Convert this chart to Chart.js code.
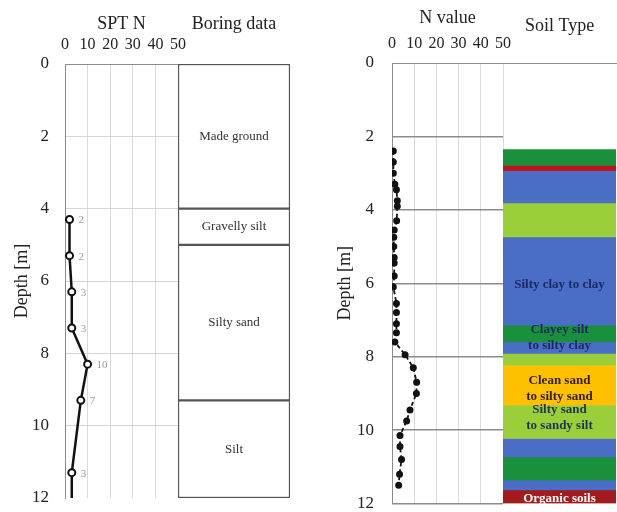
<!DOCTYPE html>
<html>
<head>
<meta charset="utf-8">
<title>SPT N / N value</title>
<script src="https://cdn.jsdelivr.net/npm/chart.js@4.4.1/dist/chart.umd.min.js"></script>
<style>
  html, body { margin: 0; padding: 0; background: #fff; overflow: hidden; }
  #wrap { position: relative; width: 617px; height: 512px; }
  canvas { position: absolute; top: 0; }
</style>
</head>
<body>
<div id="wrap">
  <canvas id="sptChart" width="200" height="540" style="left:0"></canvas>
  <canvas id="boringChart" width="130" height="540" style="left:170px"></canvas>
  <canvas id="nChart" width="215" height="540" style="left:310px"></canvas>
  <canvas id="soilChart" width="122" height="540" style="left:495px"></canvas>
</div>
<script>
// Trục chung
const depthTicks = [0, 2, 4, 6, 8, 10, 12];
const nTicks = [0, 10, 20, 30, 40, 50];

// Kết quả SPT
const sptDepth = [4.3, 5.3, 6.3, 7.3, 8.3, 9.3, 11.3];
const sptN = [2, 2, 3, 3, 10, 7, 3];

// Các lớp trong hố khoan
const boringTop = [0, 4, 5, 9.3];
const boringBottom = [4, 5, 9.3, 12];
const boringNames = ["Made ground", "Gravelly silt", "Silty sand", "Silt"];

// Đường N value
const nDepth = [2.4, 2.7, 3.0, 3.3, 3.45, 3.75, 3.9, 4.3, 4.55, 4.75, 5.0, 5.3, 5.45, 5.8, 6.1, 6.55,
                6.8, 7.1, 7.35, 7.6, 7.95, 8.3, 8.7, 9.0, 9.45, 9.75, 10.15, 10.45, 10.8, 11.2, 11.5];
const nValue = [0.6, 0.6, 0.6, 1.3, 2.0, 2.4, 2.4, 2.1, 1.0, 0.8, 0.8, 1.0, 1.0, 1.0, 0.6, 2.0,
                2.0, 2.0, 2.0, 1.3, 5.9, 9.6, 11.1, 11.0, 8.1, 6.6, 3.6, 3.6, 4.3, 3.4, 3.0];

// Phân loại đất
const soilTop = [2.36, 2.79, 2.93, 3.81, 4.74, 7.14, 7.6, 7.91, 8.23, 9.32, 10.23, 10.73, 11.36, 11.63];
const soilBottom = [2.79, 2.93, 3.81, 4.74, 7.14, 7.6, 7.91, 8.23, 9.32, 10.23, 10.73, 11.36, 11.63, 12];
const soilColors = ["#1a8f3c", "#c0141c", "#4a6ec6", "#9bcf3a", "#4a6ec6", "#1a8f3c", "#4a6ec6",
                    "#9bcf3a", "#ffc000", "#9bcf3a", "#4a6ec6", "#1a8f3c", "#4a6ec6", "#a31b1b"];
const soilNames = [["Silty clay to clay"], ["Clayey silt", "to silty clay"], ["Clean sand", "to silty sand"],
                   ["Silty sand", "to sandy silt"], ["Organic soils"]];
const soilNameDepth = [6.05, 7.48, 8.86, 9.66, 11.88];
const soilNameColors = ["#1b2a66", "#1b2a5e", "#2e1f0c", "#1d3552", "#ffffff"];

Chart.defaults.font.family = "'Liberation Serif', 'Times New Roman', serif";
Chart.defaults.color = "#222";

const setTicks = list => scale => { scale.ticks = list.map(v => ({ value: v })); };

// ghi chữ giữa cột theo độ sâu
function layerText(id, lines, depths, colors, font, lineGap) {
    return {
        id: id,
        afterDatasetsDraw(chart) {
            const ctx = chart.ctx;
            const yScale = chart.scales.y;
            const cx = (chart.chartArea.left + chart.chartArea.right) / 2;
            ctx.save();
            ctx.font = font;
            ctx.textAlign = "center";
            ctx.textBaseline = "middle";
            lines.forEach((txt, i) => {
                const rows = Array.isArray(txt) ? txt : [txt];
                const y = yScale.getPixelForValue(depths[i]);
                ctx.fillStyle = colors[i];
                rows.forEach((r, k) => ctx.fillText(r, cx, y + (k - (rows.length - 1) / 2) * lineGap));
            });
            ctx.restore();
        }
    };
}

// số N cạnh mỗi điểm
const sptLabels = {
    id: "sptLabels",
    afterDatasetsDraw(chart) {
        const ctx = chart.ctx;
        ctx.save();
        ctx.font = "11px 'Liberation Serif'";
        ctx.fillStyle = "#9a9a9a";
        ctx.textBaseline = "middle";
        chart.getDatasetMeta(0).data.forEach((pt, i) => ctx.fillText(sptN[i], pt.x + 9, pt.y + 1));
        ctx.restore();
    }
};

const baseOptions = {
    responsive: false,
    animation: false,
    devicePixelRatio: 1,
    plugins: { legend: { display: false }, tooltip: { enabled: false } }
};

// Biểu đồ SPT N
new Chart(document.getElementById("sptChart"), {
    type: "scatter",
    data: {
        datasets: [{
            data: sptDepth.map((d, i) => ({ x: sptN[i], y: d })),
            showLine: true,
            borderColor: "#111",
            borderWidth: 2.5,
            pointRadius: 3.5,
            pointBackgroundColor: "#fff",
            pointBorderColor: "#111",
            pointBorderWidth: 2
        }, {
            // đoạn kéo xuống đáy hố
            data: [{ x: sptN[sptN.length - 1], y: sptDepth[sptDepth.length - 1] }, { x: sptN[sptN.length - 1], y: 12 }],
            showLine: true,
            borderColor: "#111",
            borderWidth: 2.5,
            pointRadius: 0
        }]
    },
    options: {
        ...baseOptions,
        layout: { padding: { top: 0, left: 0, right: 22, bottom: 42 } },
        scales: {
            x: {
                type: "linear", position: "top", min: 0, max: 50,
                afterBuildTicks: setTicks(nTicks),
                afterFit: s => { s.height = 64; },
                ticks: { padding: 10, font: { size: 16 } },
                grid: { color: "#dadada", drawTicks: false },
                border: { color: "#8c8c8c" },
                title: { display: true, text: "SPT N", font: { size: 18 }, padding: { top: 13, bottom: 0 } }
            },
            y: {
                type: "linear", reverse: true, min: 0, max: 12,
                afterBuildTicks: setTicks(depthTicks),
                afterFit: s => { s.width = 65; },
                ticks: { padding: 16, font: { size: 17 } },
                grid: { color: c => (c.tick.value === 0 || c.tick.value === 12) ? "rgba(0,0,0,0)" : "#d6d6d6", drawTicks: false },
                border: { color: "#8c8c8c" },
                title: { display: true, text: "Depth [m]", font: { size: 18 }, padding: { top: 11, bottom: 0 } }
            }
        }
    },
    plugins: [sptLabels]
});

// Cột mô tả hố khoan
new Chart(document.getElementById("boringChart"), {
    type: "bar",
    data: {
        labels: [""],
        datasets: boringTop.map((t, i) => ({
            data: [[t, boringBottom[i]]],
            backgroundColor: "#fff",
            borderColor: "#555",
            borderWidth: 1.5,
            borderSkipped: false,
            grouped: false,
            barPercentage: 1,
            categoryPercentage: 1
        }))
    },
    options: {
        ...baseOptions,
        layout: { padding: { top: 0, left: 8, right: 10, bottom: 42 } },
        scales: {
            x: {
                position: "top",
                afterFit: s => { s.height = 64; },
                ticks: { display: false },
                grid: { display: false },
                border: { display: false },
                title: { display: true, text: "Boring data", font: { size: 18 }, padding: { top: 13, bottom: 0 } }
            },
            y: { display: false, min: 0, max: 12, reverse: true }
        }
    },
    plugins: [layerText("boringText", boringNames, boringTop.map((t, i) => (t + boringBottom[i]) / 2),
        boringNames.map(() => "#333"), "13px 'Liberation Serif'", 16)]
});

// Biểu đồ N value
new Chart(document.getElementById("nChart"), {
    type: "scatter",
    data: {
        datasets: [{
            data: nDepth.map((d, i) => ({ x: nValue[i], y: d })),
            showLine: true,
            borderColor: "#111",
            borderWidth: 1.8,
            borderDash: [4, 3],
            pointRadius: 2.6,
            pointBackgroundColor: "#111",
            pointBorderColor: "#111"
        }]
    },
    options: {
        ...baseOptions,
        layout: { padding: { top: 0, left: 0, right: 22, bottom: 36.5 } },
        scales: {
            x: {
                type: "linear", position: "top", min: 0, max: 50,
                afterBuildTicks: setTicks(nTicks),
                afterFit: s => { s.height = 63; },
                ticks: { padding: 10, font: { size: 16 } },
                grid: { color: "#dadada", drawTicks: false },
                border: { color: "#8c8c8c" },
                title: { display: true, text: "N value", font: { size: 18 }, padding: { top: 7, bottom: 0 } }
            },
            y: {
                type: "linear", reverse: true, min: 0, max: 12,
                afterBuildTicks: setTicks(depthTicks),
                afterFit: s => { s.width = 82; },
                ticks: { padding: 18, font: { size: 17 } },
                grid: { color: c => c.tick.value === 0 ? "rgba(0,0,0,0)" : "#8c8c8c", lineWidth: 1.5, drawTicks: false },
                border: { color: "#8c8c8c" },
                title: { display: true, text: "Depth [m]", font: { size: 18 }, padding: { top: 24, bottom: 0 } }
            }
        }
    }
});

// Cột loại đất
new Chart(document.getElementById("soilChart"), {
    type: "bar",
    data: {
        labels: [""],
        datasets: soilTop.map((t, i) => ({
            data: [[t, soilBottom[i]]],
            backgroundColor: soilColors[i],
            borderWidth: 0,
            grouped: false,
            barPercentage: 1,
            categoryPercentage: 1
        }))
    },
    options: {
        ...baseOptions,
        layout: { padding: { top: 0, left: 8, right: 1, bottom: 36.5 } },
        scales: {
            x: {
                position: "top",
                afterFit: s => { s.height = 63; },
                ticks: { display: false },
                grid: { display: false },
                border: { display: true, color: "#8c8c8c" },
                title: { display: true, text: "Soil Type", font: { size: 18 }, padding: { top: 15, bottom: 0 } }
            },
            y: { display: false, min: 0, max: 12, reverse: true }
        }
    },
    plugins: [layerText("soilText", soilNames, soilNameDepth, soilNameColors, "bold 13px 'Liberation Serif'", 16)]
});
</script>
</body>
</html>
